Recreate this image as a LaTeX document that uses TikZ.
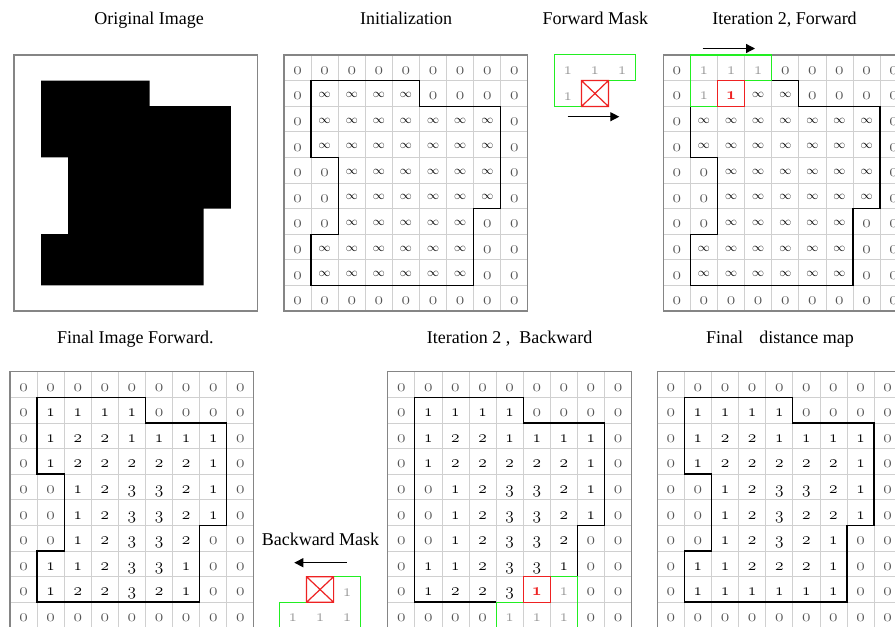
\documentclass[tikz,border=0pt]{standalone}
\usepackage{fontspec}
\newfontfamily\ttl{Liberation Serif}
\usetikzlibrary{arrows.meta}
\definecolor{gline}{HTML}{D0D0D0}
\definecolor{gborder}{HTML}{858585}
\definecolor{zgray}{HTML}{555555}
\definecolor{mgray}{HTML}{9A9A9A}
\definecolor{mgreen}{HTML}{22EE22}
\definecolor{mred}{HTML}{EE2222}
\newcommand\OSN[1]{{\fontsize{16}{16}\usefont{OML}{lmm}{m}{it}#1}}
\newcommand\BOSN[1]{{\fontsize{17.28}{17.28}\usefont{OML}{cmm}{b}{it}#1}}
\newcommand\INF{{\fontsize{13}{13}\usefont{OMS}{lmsy}{m}{n}\char"31}}
\expandafter\def\csname cv0\endcsname{\textcolor{zgray}{\OSN{0}}}
\expandafter\def\csname cv1\endcsname{\OSN{1}}
\expandafter\def\csname cv2\endcsname{\OSN{2}}
\expandafter\def\csname cv3\endcsname{\OSN{3}}
\expandafter\def\csname cvg\endcsname{\textcolor{mgray}{\OSN{1}}}
\expandafter\def\csname cvR\endcsname{\textcolor{mred}{\BOSN{1}}}
\expandafter\def\csname cvI\endcsname{\raisebox{2.5pt}{\INF}}
\tikzset{
  gridline/.style={gline, line width=0.8pt},
  gridborder/.style={gborder, line width=1.1pt},
  cellnum/.style={anchor=base, inner sep=0pt},
  outline/.style={black, line width=1.3pt, line join=miter},
  maskgreen/.style={mgreen, line width=1.2pt},
  maskred/.style={mred, line width=1.2pt},
  dirarrow/.style={-{Triangle[length=9pt,width=9pt]}, line width=1.3pt},
  title/.style={anchor=base, inner sep=0pt, font=\ttl\fontsize{18}{18}\selectfont},
  cellunits/.style={x=27.1pt, y=-25.6pt}
}
% #1 name, #2 rows
\newcommand\gridcells[2]{%
  \foreach \i in {1,...,8} \draw[gridline] (\i,0) -- (\i,10);
  \foreach \j in {1,...,9} \draw[gridline] (0,\j) -- (9,\j);
  \draw[gridborder] (0,0) rectangle (9,10);
  \foreach \rowdata [count=\r from 0] in {#2} {
    \foreach \v [count=\c from 0] in \rowdata {
      \node[cellnum] (#1-\r-\c) at (\c+0.5,\r+0.754) {\csname cv\v\endcsname};
    }
  }
}
\begin{document}
\begin{tikzpicture}[x=1pt,y=-1pt]
\useasboundingbox (0,0) rectangle (895,627);
\clip (0,0) rectangle (895,627);
\fill[white] (0,0) rectangle (895,627);

% titles
\node[title] (t-orig) at (149,24) {Original Image};
\node[title] (t-init) at (406,24) {Initialization};
\node[title] (t-fmask) at (595.3,24) {Forward Mask};
\node[title] (t-it2f) at (784.5,24) {Iteration 2, Forward};
\node[title] (t-ffwd) at (135.3,343) {Final Image Forward.};
\node[title] (t-it2b) at (509.7,343) {Iteration 2 ,\ \ Backward};
\node[title] (t-final) at (780,343) {Final\hspace{0.9em}distance map};
\node[title] (t-bmask) at (320.5,545) {Backward Mask};

% original image
\begin{scope}[shift={(14,55)}, cellunits]
  \fill[black] (1,1) -- (5,1) -- (5,2) -- (8,2) -- (8,6) -- (7,6) -- (7,9) -- (1,9) -- (1,7) -- (2,7) -- (2,4) -- (1,4) -- cycle;
  \draw[gridborder] (0,0) rectangle (9,10);
\end{scope}

% initialization
\begin{scope}[shift={(284,55)}, cellunits]
  \gridcells{init}{
    {0,0,0,0,0,0,0,0,0},
    {0,I,I,I,I,0,0,0,0},
    {0,I,I,I,I,I,I,I,0},
    {0,I,I,I,I,I,I,I,0},
    {0,0,I,I,I,I,I,I,0},
    {0,0,I,I,I,I,I,I,0},
    {0,0,I,I,I,I,I,0,0},
    {0,I,I,I,I,I,I,0,0},
    {0,I,I,I,I,I,I,0,0},
    {0,0,0,0,0,0,0,0,0}}
  \draw[outline] (1,1) -- (5,1) -- (5,2) -- (8,2) -- (8,6) -- (7,6) -- (7,9) -- (1,9) -- (1,7) -- (2,7) -- (2,4) -- (1,4) -- cycle;
\end{scope}

% forward mask
\begin{scope}[shift={(554.3,54.5)}, x=27.1pt, y=-26pt]
  \node[cellnum] (fm-a) at (0.5,0.754) {\csname cvg\endcsname};
  \node[cellnum] (fm-b) at (1.5,0.754) {\csname cvg\endcsname};
  \node[cellnum] (fm-c) at (2.5,0.754) {\csname cvg\endcsname};
  \node[cellnum] (fm-d) at (0.5,1.754) {\csname cvg\endcsname};
  \draw[maskgreen] (1,2) -- (0,2) -- (0,0) -- (3,0) -- (3,1) -- (2,1);
  \draw[maskred] (1,1) rectangle (2,2) (1,1) -- (2,2) (2,1) -- (1,2);
\end{scope}
\coordinate (fa1) at (567.7,116.7);
\coordinate (fa2) at (619.3,116.7);
\draw[dirarrow] (fa1) -- (fa2);

% iteration 2 forward
\begin{scope}[shift={(663.3,55)}, cellunits]
  \gridcells{itf}{
    {0,g,g,g,0,0,0,0,0},
    {0,g,R,I,I,0,0,0,0},
    {0,I,I,I,I,I,I,I,0},
    {0,I,I,I,I,I,I,I,0},
    {0,0,I,I,I,I,I,I,0},
    {0,0,I,I,I,I,I,I,0},
    {0,0,I,I,I,I,I,0,0},
    {0,I,I,I,I,I,I,0,0},
    {0,I,I,I,I,I,I,0,0},
    {0,0,0,0,0,0,0,0,0}}
  \draw[outline] (4,1) -- (5,1) -- (5,2) -- (8,2) -- (8,6) -- (7,6) -- (7,9) -- (1,9) -- (1,7) -- (2,7) -- (2,4) -- (1,4) -- (1,2);
  \draw[maskgreen] (2,2) -- (1,2) -- (1,0) -- (4,0) -- (4,1) -- (3,1);
  \draw[maskred] (2,1) rectangle (3,2);
\end{scope}
\coordinate (ia1) at (702.7,48.5);
\coordinate (ia2) at (755,48.5);
\draw[dirarrow] (ia1) -- (ia2);

% final image forward
\begin{scope}[shift={(10,371.7)}, cellunits]
  \gridcells{ffw}{
    {0,0,0,0,0,0,0,0,0},
    {0,1,1,1,1,0,0,0,0},
    {0,1,2,2,1,1,1,1,0},
    {0,1,2,2,2,2,2,1,0},
    {0,0,1,2,3,3,2,1,0},
    {0,0,1,2,3,3,2,1,0},
    {0,0,1,2,3,3,2,0,0},
    {0,1,1,2,3,3,1,0,0},
    {0,1,2,2,3,2,1,0,0},
    {0,0,0,0,0,0,0,0,0}}
  \draw[outline] (1,1) -- (5,1) -- (5,2) -- (8,2) -- (8,6) -- (7,6) -- (7,9) -- (1,9) -- (1,7) -- (2,7) -- (2,4) -- (1,4) -- cycle;
\end{scope}

% backward mask
\begin{scope}[shift={(279.4,576.7)}, cellunits]
  \node[cellnum] (bm-a) at (2.5,0.754) {\csname cvg\endcsname};
  \node[cellnum] (bm-b) at (0.5,1.754) {\csname cvg\endcsname};
  \node[cellnum] (bm-c) at (1.5,1.754) {\csname cvg\endcsname};
  \node[cellnum] (bm-d) at (2.5,1.754) {\csname cvg\endcsname};
  \draw[maskgreen] (1,1) -- (0,1) -- (0,2) -- (3,2) -- (3,0) -- (2,0);
  \draw[maskred] (1,0) rectangle (2,1) (1,0) -- (2,1) (2,0) -- (1,1);
\end{scope}
\coordinate (ba1) at (346.7,562.7);
\coordinate (ba2) at (294.3,562.7);
\draw[dirarrow] (ba1) -- (ba2);

% iteration 2 backward
\begin{scope}[shift={(387.7,371.7)}, cellunits]
  \gridcells{itb}{
    {0,0,0,0,0,0,0,0,0},
    {0,1,1,1,1,0,0,0,0},
    {0,1,2,2,1,1,1,1,0},
    {0,1,2,2,2,2,2,1,0},
    {0,0,1,2,3,3,2,1,0},
    {0,0,1,2,3,3,2,1,0},
    {0,0,1,2,3,3,2,0,0},
    {0,1,1,2,3,3,1,0,0},
    {0,1,2,2,3,R,g,0,0},
    {0,0,0,0,g,g,g,0,0}}
  \draw[outline] (7,8) -- (7,6) -- (8,6) -- (8,2) -- (5,2) -- (5,1) -- (1,1) -- (1,9) -- (4,9);
  \draw[maskgreen] (5,9) -- (4,9) -- (4,10) -- (7,10) -- (7,8) -- (6,8);
  \draw[maskred] (5,8) rectangle (6,9);
\end{scope}

% final distance map
\begin{scope}[shift={(657.3,371.7)}, cellunits]
  \gridcells{fin}{
    {0,0,0,0,0,0,0,0,0},
    {0,1,1,1,1,0,0,0,0},
    {0,1,2,2,1,1,1,1,0},
    {0,1,2,2,2,2,2,1,0},
    {0,0,1,2,3,3,2,1,0},
    {0,0,1,2,3,2,2,1,0},
    {0,0,1,2,3,2,1,0,0},
    {0,1,1,2,2,2,1,0,0},
    {0,1,1,1,1,1,1,0,0},
    {0,0,0,0,0,0,0,0,0}}
  \draw[outline] (1,1) -- (5,1) -- (5,2) -- (8,2) -- (8,6) -- (7,6) -- (7,9) -- (1,9) -- (1,7) -- (2,7) -- (2,4) -- (1,4) -- cycle;
\end{scope}
\end{tikzpicture}
\end{document}
